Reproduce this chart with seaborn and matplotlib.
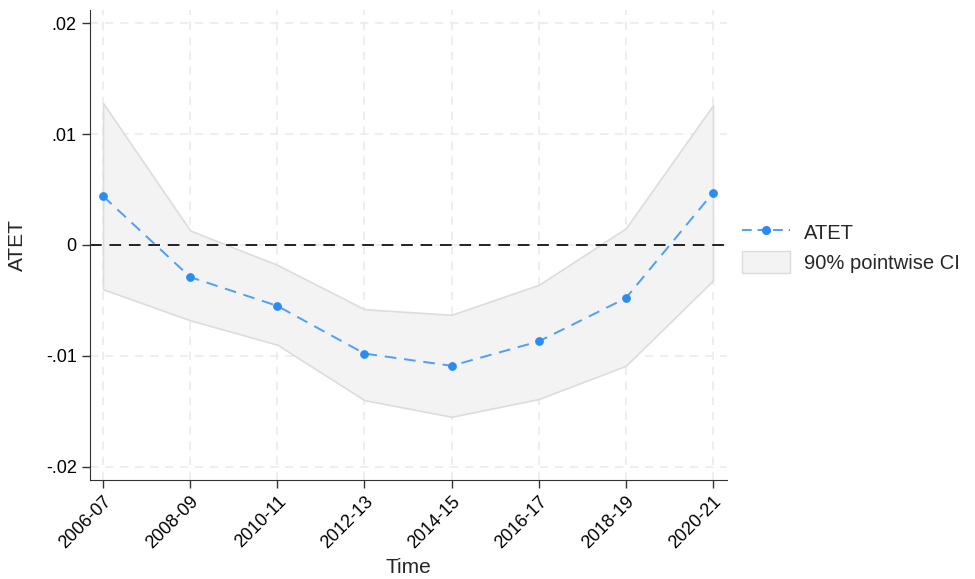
import numpy as np
import pandas as pd
import matplotlib
matplotlib.use('Agg')
import matplotlib.pyplot as plt
from matplotlib.patches import Patch
from matplotlib.lines import Line2D
import seaborn as sns

periods = ['2006-07', '2008-09', '2010-11', '2012-13', '2014-15', '2016-17', '2018-19', '2020-21']
atet = [0.0044, -0.0029, -0.0055, -0.0098, -0.0109, -0.0087, -0.0048, 0.0047]
ci_upper = [0.0128, 0.0013, -0.0018, -0.0058, -0.0063, -0.0036, 0.0015, 0.0126]
ci_lower = [-0.0040, -0.0068, -0.0090, -0.0140, -0.0155, -0.0139, -0.0109, -0.0032]
yticks = [-0.02, -0.01, 0, 0.01, 0.02]
ytick_labels = ['-.02', '-.01', '0', '.01', '.02']

sns.set_style('ticks')
plt.rcParams['font.family'] = ['Liberation Sans', 'DejaVu Sans']

df = pd.DataFrame({'pos': np.arange(len(periods)), 'ATET': atet,
                   'lo': ci_lower, 'hi': ci_upper})

fig = plt.figure(figsize=(9.75, 5.79), dpi=100)
ax = fig.add_axes([0.0923, 0.171, 0.6533, 0.812])

# 网格
for x in df['pos']:
    ax.axvline(x, color='#ebebeb', lw=1.2, ls=(0, (5, 4)), zorder=0)
for y in yticks:
    ax.axhline(y, color='#ebebeb', lw=1.2, ls=(0, (5, 4)), zorder=0)

ax.fill_between(df['pos'], df['lo'], df['hi'], facecolor='#f3f3f3',
                edgecolor='#dcdcdc', lw=1.2, zorder=1)
ax.axhline(0, color='#222222', lw=1.4, ls=(0, (6, 4)), zorder=2)
sns.lineplot(data=df, x='pos', y='ATET', ax=ax, color='#4f9ef7', lw=1.4,
             ls=(0, (6, 4)), marker='o', markersize=5.5,
             markerfacecolor='#2a8cf2', markeredgecolor='#2a8cf2', zorder=3)

ax.set_xlim(-0.15, 7.16)
ax.set_ylim(-0.0212, 0.0212)
ax.set_xticks(df['pos'])
ax.set_xticklabels(periods, rotation=45, ha='right', rotation_mode='anchor', fontsize=13)
ax.set_yticks(yticks)
ax.set_yticklabels(ytick_labels, fontsize=13)
ax.tick_params(axis='both', length=6, width=1, color='#333333', labelcolor='black')
ax.set_xlabel('Time', fontsize=15, labelpad=4)
ax.set_ylabel('ATET', fontsize=15, labelpad=14)
sns.despine(ax=ax)
for s in ['left', 'bottom']:
    ax.spines[s].set_color('#333333')

handles = [Line2D([0], [0], color='#4f9ef7', lw=1.4, ls=(0, (5, 3)), marker='o',
                  markersize=5.5, markerfacecolor='#2a8cf2', markeredgecolor='#2a8cf2'),
           Patch(facecolor='#f3f3f3', edgecolor='#dcdcdc')]
ax.legend(handles, ['ATET', '90% pointwise CI'], loc='center left',
          bbox_to_anchor=(0.995, 0.495), frameon=False, fontsize=14.5,
          handlelength=2.4, handleheight=1.3, labelspacing=0.4, handletextpad=0.7)

fig.savefig('out.png', dpi=100)
